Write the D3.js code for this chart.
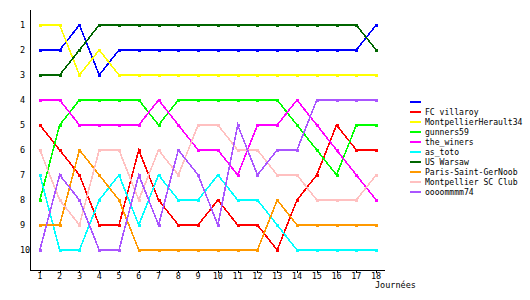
<!DOCTYPE html>
<html>
<head>
<meta charset="utf-8">
<script src="https://cdn.jsdelivr.net/npm/d3@7"></script>
<style>
  body { margin: 0; background: #fff; }
  text { font-family: "DejaVu Sans Mono", monospace; font-size: 8.5px; fill: #000; }
  .legend text { font-size: 8.1px; }
</style>
</head>
<body>
<script>
const width = 530;
const height = 300;

// journées 1..18
const journees = d3.range(1, 19);
const rankTicks = d3.range(1, 11);

const teams = ["", "FC villaroy", "MontpellierHerault34", "gunners59", "the_winers",
    "as_toto", "US Warsaw", "Paris-Saint-GerNoob", "Montpellier SC Club", "oooommmm74"];
const colors = ["#0000ff", "#ff0000", "#ffff00", "#00ff00", "#ff00ff",
    "#00ffff", "#006600", "#ff9900", "#ffc0c0", "#aa55ff"];

// classement par journée
const blank = [2, 2, 1, 3, 2, 2, 2, 2, 2, 2, 2, 2, 2, 2, 2, 2, 2, 1];
const villaroy = [5, 6, 7, 9, 9, 6, 8, 9, 9, 8, 9, 9, 10, 8, 7, 5, 6, 6];
const herault = [1, 1, 3, 2, 3, 3, 3, 3, 3, 3, 3, 3, 3, 3, 3, 3, 3, 3];
const gunners = [8, 5, 4, 4, 4, 4, 5, 4, 4, 4, 4, 4, 4, 5, 6, 7, 5, 5];
const winers = [4, 4, 5, 5, 5, 5, 4, 5, 6, 6, 7, 5, 5, 4, 5, 6, 7, 8];
const toto = [7, 10, 10, 8, 7, 9, 7, 8, 8, 7, 8, 8, 9, 10, 10, 10, 10, 10];
const warsaw = [3, 3, 2, 1, 1, 1, 1, 1, 1, 1, 1, 1, 1, 1, 1, 1, 1, 2];
const psg = [9, 9, 6, 7, 8, 10, 10, 10, 10, 10, 10, 10, 8, 9, 9, 9, 9, 9];
const mhsc = [6, 8, 9, 6, 6, 8, 6, 7, 5, 5, 6, 6, 7, 7, 8, 8, 8, 7];
const ooom = [10, 7, 8, 10, 10, 7, 9, 6, 7, 9, 5, 7, 6, 6, 4, 4, 4, 4];

const series = [blank, villaroy, herault, gunners, winers, toto, warsaw, psg, mhsc, ooom];

const svg = d3.select("body").append("svg")
    .attr("width", width)
    .attr("height", height);

const x = d3.scaleLinear().domain([0.5, 18.45]).range([30, 385]);
const y = d3.scaleLinear().domain([0.4, 10.8]).range([10, 270]);

const line = d3.line()
    .x((d, i) => x(journees[i]))
    .y(d => y(d));

// courbes
series.forEach((s, k) => {
    svg.append("path")
        .datum(s)
        .attr("d", line)
        .attr("fill", "none")
        .attr("stroke", colors[k])
        .attr("stroke-width", 1.6)
        .attr("shape-rendering", "crispEdges");

    svg.append("g")
        .selectAll("rect")
        .data(s)
        .enter()
        .append("rect")
        .attr("x", (d, i) => Math.round(x(journees[i])) - 1.5)
        .attr("y", d => Math.round(y(d)) - 1.5)
        .attr("width", 3)
        .attr("height", 3)
        .attr("fill", colors[k])
        .attr("shape-rendering", "crispEdges");
});

// axes
svg.append("line")
    .attr("x1", 30.5).attr("x2", 30.5)
    .attr("y1", 10).attr("y2", 270)
    .attr("stroke", "#000");
svg.append("line")
    .attr("x1", 30).attr("x2", 385)
    .attr("y1", 270.5).attr("y2", 270.5)
    .attr("stroke", "#000");

svg.append("g")
    .selectAll("text")
    .data(rankTicks)
    .enter()
    .append("text")
    .attr("x", 20)
    .attr("y", d => y(d) + 3)
    .text(d => d);

svg.append("g")
    .selectAll("line")
    .data(journees)
    .enter()
    .append("line")
    .attr("x1", d => Math.round(x(d)) + 0.5)
    .attr("x2", d => Math.round(x(d)) + 0.5)
    .attr("y1", 270)
    .attr("y2", 273)
    .attr("stroke", "#000");

svg.append("g")
    .selectAll("text")
    .data(journees)
    .enter()
    .append("text")
    .attr("x", d => x(d))
    .attr("y", 279)
    .style("text-anchor", "middle")
    .text(d => d);

svg.append("text")
    .attr("x", 375)
    .attr("y", 288)
    .text("Journées");

// légende
const legend = svg.append("g")
    .attr("class", "legend")
    .attr("transform", "translate(410, 102)");

teams.forEach((t, k) => {
    legend.append("rect")
        .attr("x", 0)
        .attr("y", k * 10 - 1)
        .attr("width", 11)
        .attr("height", 2)
        .attr("fill", colors[k]);
    legend.append("text")
        .attr("x", 15)
        .attr("y", k * 10 + 3)
        .text(t);
});
</script>
</body>
</html>
